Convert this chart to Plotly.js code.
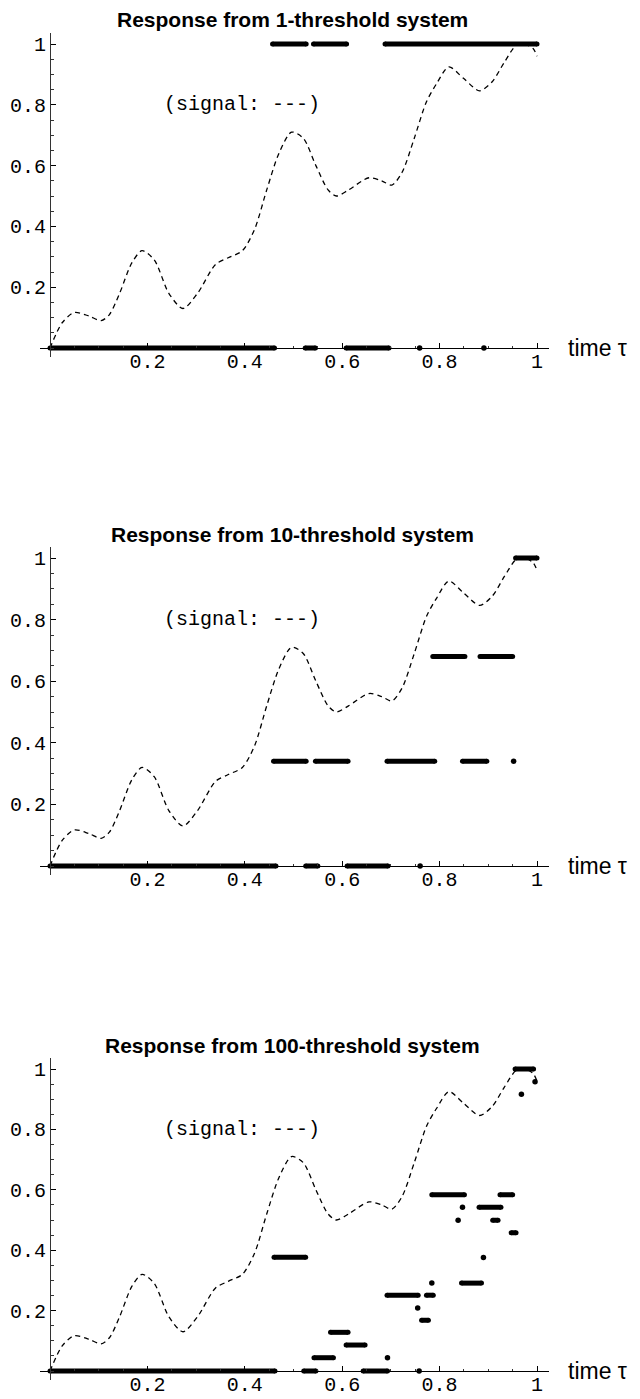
<!DOCTYPE html>
<html>
<head>
<meta charset="utf-8">
<script src="https://cdn.plot.ly/plotly-3.0.1.min.js"></script>
<style>html,body{margin:0;padding:0;background:#fff;}#chart{width:640px;height:1399px;}</style>
</head>
<body>
<div id="chart"></div>
<script>
// ---- data ----
const titles = ["Response from 1-threshold system", "Response from 10-threshold system", "Response from 100-threshold system"];
const tickVals = [0.2, 0.4, 0.6, 0.8, 1];
const tickText = ["0.2", "0.4", "0.6", "0.8", "1"];
const signalLabel = "(signal: ---)";
const xLabel = "time \u03c4";

// signal (dashed curve), same in all three panels
const sigX = [0, 0.025, 0.05, 0.08, 0.105, 0.122, 0.143, 0.168, 0.189, 0.214, 0.244, 0.273, 0.303, 0.34, 0.366, 0.395, 0.42, 0.445, 0.47, 0.496, 0.52, 0.546, 0.571, 0.588, 0.613, 0.655, 0.681, 0.702, 0.723, 0.748, 0.773, 0.794, 0.819, 0.849, 0.882, 0.908, 0.933, 0.958, 0.975, 0.992, 1.0];
const sigY = [0.0, 0.083, 0.117, 0.105, 0.09, 0.11, 0.18, 0.28, 0.32, 0.29, 0.18, 0.13, 0.18, 0.275, 0.297, 0.32, 0.39, 0.52, 0.64, 0.71, 0.69, 0.60, 0.52, 0.50, 0.52, 0.56, 0.55, 0.536, 0.578, 0.69, 0.81, 0.87, 0.925, 0.887, 0.846, 0.876, 0.94, 0.997, 1.0, 0.985, 0.96];

// panel 1: 1-threshold response
const p1SegStart = [0, 0.524, 0.608, 0.457, 0.541, 0.688];
const p1SegEnd   = [0.461, 0.545, 0.696, 0.526, 0.609, 1.0];
const p1SegLevel = [0, 0, 0, 1, 1, 1];
const p1DotX = [0.759, 0.891];
const p1DotY = [0, 0];

// panel 2: 10-threshold response
const p2SegStart = [0, 0.525, 0.61, 0.459, 0.545, 0.692, 0.847, 0.786, 0.883, 0.956];
const p2SegEnd   = [0.464, 0.55, 0.694, 0.526, 0.612, 0.79, 0.897, 0.852, 0.95, 1.0];
const p2SegLevel = [0, 0, 0, 0.34, 0.34, 0.34, 0.34, 0.68, 0.68, 1];
const p2DotX = [0.76, 0.952];
const p2DotY = [0, 0.34];

// panel 3: 100-threshold response
const p3SegStart = [0, 0.521, 0.643, 0.542, 0.608, 0.576, 0.763, 0.692, 0.773, 0.845, 0.46, 0.947, 0.909, 0.881, 0.784, 0.924, 0.955];
const p3SegEnd   = [0.462, 0.546, 0.693, 0.582, 0.647, 0.612, 0.777, 0.756, 0.787, 0.886, 0.525, 0.957, 0.92, 0.926, 0.851, 0.95, 0.993];
const p3SegLevel = [0, 0, 0, 0.044, 0.086, 0.128, 0.168, 0.251, 0.251, 0.291, 0.377, 0.458, 0.499, 0.542, 0.584, 0.584, 1.0];
const p3DotX = [0.758, 0.693, 0.755, 0.784, 0.89, 0.838, 0.847, 0.968, 0.996];
const p3DotY = [0, 0.044, 0.209, 0.291, 0.376, 0.499, 0.542, 0.916, 0.958];

const panels = [
  {start: p1SegStart, end: p1SegEnd, level: p1SegLevel, dx: p1DotX, dy: p1DotY},
  {start: p2SegStart, end: p2SegEnd, level: p2SegLevel, dx: p2DotX, dy: p2DotY},
  {start: p3SegStart, end: p3SegEnd, level: p3SegLevel, dx: p3DotX, dy: p3DotY}
];

// ---- geometry (pixels) ----
const W = 640, H = 1399;
const x0px = 50, x1px = 537;
const xr = [-0.02, 1.025];
const geo = [ {y1: 44, y0: 348, ty: 19}, {y1: 558, y0: 866, ty: 534}, {y1: 1069, y0: 1371, ty: 1045} ];
const yr = [-0.03, 1.035];

const xs = (x1px - x0px);
const xdom = [(x0px + xr[0]*xs)/W, (x0px + xr[1]*xs)/W];

const traces = [];
const layout = {
  width: W, height: H, margin: {l:0, r:0, t:0, b:0},
  paper_bgcolor: '#fff', plot_bgcolor: 'rgba(0,0,0,0)',
  showlegend: false, annotations: []
};
const monoFont = {family: 'Liberation Mono, Courier New, monospace', size: 20, color: '#000'};

geo.forEach((g, i) => {
  const k = i === 0 ? '' : String(i+1);
  const xa = 'x' + k, ya = 'y' + k;
  const ys = g.y0 - g.y1;
  const pyTop = g.y0 - yr[1]*ys, pyBot = g.y0 - yr[0]*ys;
  const ydom = [(H - pyBot)/H, (H - pyTop)/H];
  const xpos = (H - g.y0)/H;
  const ypos = x0px / W;
  layout['xaxis' + k] = {
    domain: xdom, range: xr, anchor: 'free', position: xpos,
    showline: true, linecolor: '#000', linewidth: 1.3,
    showgrid: false, zeroline: false,
    tickmode: 'array', tickvals: tickVals, ticktext: tickText,
    ticks: 'inside', ticklen: 5, tickwidth: 1, tickcolor: '#000',
    minor: {dtick: 0.05, tick0: 0, ticks: 'inside', ticklen: 2.5, tickwidth: 1, tickcolor: '#333'},
    tickfont: monoFont, ticklabelstandoff: -5, fixedrange: true
  };
  layout['yaxis' + k] = {
    domain: ydom, range: yr, anchor: 'free', position: ypos,
    showline: true, linecolor: '#333', linewidth: 1,
    showgrid: false, zeroline: false,
    tickmode: 'array', tickvals: tickVals, ticktext: tickText,
    ticks: 'inside', ticklen: 5, tickwidth: 1, tickcolor: '#000',
    minor: {dtick: 0.05, tick0: 0, ticks: 'inside', ticklen: 2.5, tickwidth: 1, tickcolor: '#333'},
    tickfont: monoFont, fixedrange: true
  };
  // signal
  traces.push({x: sigX, y: sigY, xaxis: xa, yaxis: ya, mode: 'lines',
    line: {color: '#000', width: 1.3, dash: '5px,4px', shape: 'spline', smoothing: 0.8},
    hoverinfo: 'skip'});
  // response segments
  const p = panels[i];
  const sx = [], sy = [];
  p.start.forEach((s, j) => { sx.push(s, p.end[j], null); sy.push(p.level[j], p.level[j], null); });
  traces.push({x: sx, y: sy, xaxis: xa, yaxis: ya, mode: 'lines+markers',
    line: {color: '#000', width: 5}, marker: {color: '#000', size: 5},
    cliponaxis: false, hoverinfo: 'skip'});
  traces.push({x: p.dx, y: p.dy, xaxis: xa, yaxis: ya, mode: 'markers',
    marker: {color: '#000', size: 5.5}, cliponaxis: false, hoverinfo: 'skip'});
  // annotations
  layout.annotations.push({text: '<b>' + titles[i] + '</b>', xref: 'paper', yref: 'paper',
    x: 292/W, y: (H - g.ty)/H, xanchor: 'center', yanchor: 'middle', showarrow: false,
    font: {family: 'Liberation Sans, Arial, sans-serif', size: 21, color: '#000'}});
  layout.annotations.push({text: signalLabel, xref: xa, yref: ya, x: 0.23, y: 0.8,
    xanchor: 'left', yanchor: 'middle', showarrow: false, font: monoFont});
  layout.annotations.push({text: xLabel, xref: 'paper', yref: 'paper', x: 566/W, y: xpos,
    xanchor: 'left', yanchor: 'middle', showarrow: false,
    font: {family: 'Liberation Sans, Arial, sans-serif', size: 23, color: '#000'}});
});

Plotly.newPlot('chart', traces, layout, {staticPlot: true, displayModeBar: false});
</script>
</body>
</html>
